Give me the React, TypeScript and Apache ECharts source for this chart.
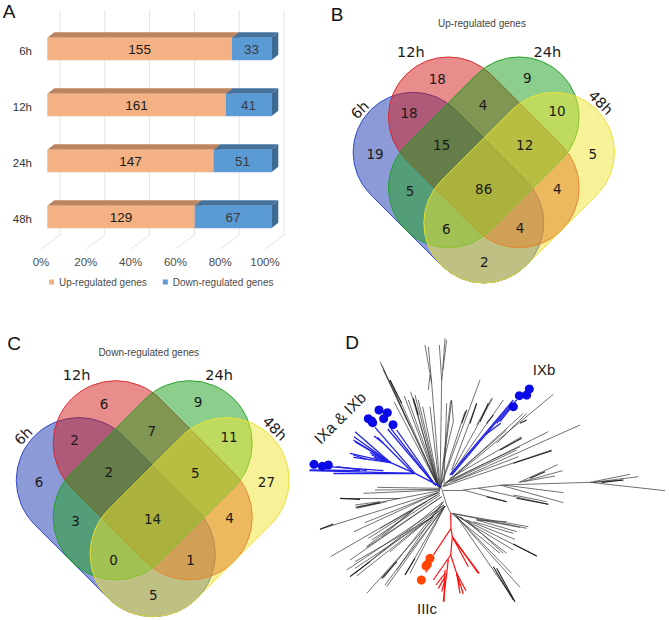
import React, { useEffect, useRef } from "react";
import * as echarts from "echarts";

const SANS = "Liberation Sans";
const VENNFONT = "DejaVu Sans";

// Panel A
const timepoints = ["6h", "12h", "24h", "48h"];
const upCounts = [155, 161, 147, 129];
const downCounts = [33, 41, 51, 67];
const percentTicks = [0, 20, 40, 60, 80, 100];

// Panels B & C (same region order)
const vennUp = [19, 18, 9, 5, 18, 4, 10, 15, 12, 5, 86, 4, 6, 4, 2];
const vennDown = [6, 6, 9, 27, 2, 7, 11, 2, 5, 3, 14, 4, 0, 1, 5];
const vennRegionAt = [
  [-108.8, -15.7], [-46.5, -90.7], [43.5, -92.3], [108.9, -16.3], [-74.8, -56.7],
  [-0.8, -64.7], [73.2, -59.3], [-42.1, -25.3], [40.9, -24.7], [-73.8, 21],
  [-0.1, 19.3], [73.5, 18.7], [-37.5, 59], [36.2, 58.3], [0.5, 92.3],
];
const vennSetNames = ["6h", "12h", "24h", "48h"];
const vennSetLabelAt = [
  [-123.8, -60, 45], [-73, -118.3, 0], [63.5, -118.3, 0], [116.9, -67.3, -45],
];
const vennStadiums = [
  [-70.7, -17.7, 0, 53], [-35.3, -53, 35.3, 17.7], [35.3, -53, -35.3, 17.7], [70.7, -17.7, 0, 53],
];
const vennFill = ["rgba(25,55,175,0.5)", "rgba(210,25,25,0.5)", "rgba(25,160,25,0.5)", "rgba(240,230,50,0.5)"];
const vennEdge = ["#2a44c0", "#d8262c", "#22a022", "#e8e030"];

// Panel D (tree traced in thirds of a pixel)
const blackThin = [
  [418,505,240,125],[410,490,245,135],[330,320,250,150],[320,300,270,180],[415,500,282,245],[415,500,313,228],
  [415,500,332,215],[412,495,340,235],[415,500,345,225],[417,500,368,260],[418,500,390,260],[420,505,395,190],
  [395,190,375,75],[395,190,385,80],[390,165,385,210],[420,505,425,180],[425,180,440,60],[425,180,418,75],
  [428,150,435,55],[424,490,455,240],[432,490,440,250],[415,500,300,240],[418,503,325,240],[416,500,355,240],
  [420,505,540,180],[420,505,452,242],[455,242,460,305],[430,430,460,305],[420,505,495,275],[455,450,530,250],
  [450,465,578,235],[530,315,575,235],[470,440,610,240],[465,465,670,280],[590,370,680,280],[420,505,760,223],
  [450,475,665,350],[435,490,745,335],[430,498,840,315],[450,485,650,390],[460,485,655,410],[430,500,755,390],
  [430,495,620,330],[440,485,660,380],
  [430,510,490,510],[490,510,610,495],[610,495,870,487],[870,487,1095,512],[870,487,990,463],[880,487,1015,470],
  [880,487,970,480],[655,488,773,434],[660,487,788,452],[670,485,765,468],[610,495,790,518],[490,510,620,545],
  [535,505,745,553],[600,495,790,548],[640,525,740,545],
  [420,505,232,502],[420,508,225,510],[420,510,190,520],[420,512,300,535],[300,535,120,535],[300,535,165,562],
  [260,545,170,565],[240,545,165,555],[420,515,60,628],[415,518,195,608],[415,518,162,635],[410,525,205,655],
  [380,545,240,625],[340,570,245,650],[340,570,200,680],[420,520,92,710],[432,555,140,750],[432,555,150,770],
  [435,558,170,768],[435,558,200,820],[435,558,255,795],[435,558,260,800],[435,558,315,765],[435,558,330,760],
  [435,558,270,695],[400,590,165,725],[400,590,165,745],[425,505,432,530],[432,530,440,555],[440,555,452,580],
  [425,530,200,682],[425,530,150,720],[420,525,215,660],[430,545,250,775],[430,545,290,750],[430,545,165,760],
  [455,580,710,708],[455,580,685,620],[455,580,680,625],[530,600,620,605],[520,605,640,640],[500,600,645,658],
  [500,600,610,700],[470,590,635,760],[470,590,660,802],[470,590,645,845],[465,585,640,690],[480,590,620,700],
  [460,585,600,700],[530,598,660,622],[530,600,650,635],
];
const blackThick = [
  [270,180,305,250],[340,235,355,285],[485,310,500,270],[510,310,530,250],[540,305,565,250],[560,310,580,285],
  [660,310,680,300],[600,390,665,355],[640,430,755,392],[905,487,970,480],[690,475,735,455],[560,530,620,545],
  [650,535,745,553],[120,535,180,538],[170,562,240,548],[60,628,100,612],[150,770,210,725],[245,775,290,725],
  [315,765,345,715],[640,672,710,708],[590,745,645,845],[580,740,640,840],
];
const blueBranches = [
  [408,498,290,330],[404,494,263,327],[404,494,272,325],[422,500,345,460],[345,460,225,322],[345,460,100,460],
  [345,460,28,452],[250,452,85,440],[200,452,110,440],[180,452,30,450],[345,460,272,428],[272,428,165,335],
  [272,428,162,350],[272,428,160,360],[272,428,165,365],[340,460,232,352],[222,348,250,370],[272,428,150,400],
  [272,428,160,412],[160,405,200,418],[272,428,210,398],[272,428,215,405],[272,428,222,412],
  [450,465,640,240],[455,465,636,250],[555,345,602,310],[590,310,650,240],[600,305,645,248],
];
const redBranches = [
  [452,580,453,625],[453,625,400,705],[453,625,457,650],[457,650,505,740],[457,650,535,760],[470,670,538,760],
  [457,650,452,705],[452,705,470,760],[470,760,498,812],[470,760,490,822],[470,760,480,820],[470,760,478,795],
  [452,705,400,780],[445,718,430,845],[435,750,432,845],[435,760,408,795],[435,770,415,805],[435,780,425,815],
  [385,735,378,757],
];
const blueTips = [
  [237,270],[262,278],[251,296],[279,314],[205,296],[215,303],[218,308],[42,433],[67,439],[85,435],
  [688,207],[680,225],[658,227],[640,260],
];
const redTips = [[390,715],[382,733],[378,738],[364,780]];

const barDepthX = 7;
const barDepthY = -5.5;
const barShiftX = 6.3;
const barShiftY = -2;
const barHeight = 22.3;

function barRender(front: string, top: string, side: string, textColor: string) {
  return (_: any, api: any) => {
    const start = api.value(0);
    const end = api.value(1);
    const cat = api.value(2);
    const count = api.value(3);
    const a = api.coord([start, cat]);
    const b = api.coord([end, cat]);
    const x0 = a[0] + barShiftX;
    const x1 = b[0] + barShiftX;
    const y0 = a[1] + barShiftY - barHeight / 2;
    const y1 = y0 + barHeight;
    return {
      type: "group",
      children: [
        { type: "polygon", shape: { points: [[x0, y0], [x1, y0], [x1 + barDepthX, y0 + barDepthY], [x0 + barDepthX, y0 + barDepthY]] }, style: { fill: top } },
        { type: "polygon", shape: { points: [[x1, y0], [x1 + barDepthX, y0 + barDepthY], [x1 + barDepthX, y1 + barDepthY], [x1, y1]] }, style: { fill: side } },
        { type: "rect", shape: { x: x0, y: y0, width: x1 - x0, height: barHeight }, style: { fill: front } },
        { type: "text", style: { text: String(count), x: (x0 + x1) / 2, y: (y0 + y1) / 2, align: "center", verticalAlign: "middle", fontSize: 13.5, fontFamily: SANS, fill: textColor } },
      ],
    };
  };
}

function vennSeries(counts: number[], gridIndex: number, name: string) {
  const common = { type: "custom", xAxisIndex: gridIndex, yAxisIndex: gridIndex, silent: true, clip: false, name };
  return [
    {
      ...common,
      data: vennStadiums.map((s, i) => [...s, i]),
      renderItem: (_: any, api: any) => {
        const x1 = api.value(0), y1 = api.value(1), x2 = api.value(2), y2 = api.value(3), i = api.value(4);
        const p1 = api.coord([x1, y1]);
        const p2 = api.coord([x2, y2]);
        const r = api.coord([x1 + 60, y1])[0] - p1[0];
        const len = Math.hypot(p2[0] - p1[0], p2[1] - p1[1]) + 2 * r;
        return {
          type: "rect",
          x: (p1[0] + p2[0]) / 2,
          y: (p1[1] + p2[1]) / 2,
          rotation: -Math.atan2(p2[1] - p1[1], p2[0] - p1[0]),
          shape: { x: -len / 2, y: -r, width: len, height: 2 * r, r },
          style: { fill: vennFill[i], stroke: vennEdge[i], lineWidth: 0.9 },
        };
      },
    },
    {
      ...common,
      z: 3,
      data: counts.map((c, i) => [vennRegionAt[i][0], vennRegionAt[i][1], c]),
      renderItem: (_: any, api: any) => {
        const p = api.coord([api.value(0), api.value(1)]);
        return { type: "text", style: { text: String(api.value(2)), x: p[0], y: p[1], align: "center", verticalAlign: "middle", fontSize: 13.5, fontFamily: VENNFONT, fill: "#1a1a1a" } };
      },
    },
    {
      ...common,
      z: 3,
      data: vennSetLabelAt.map((s, i) => [s[0], s[1], s[2], i]),
      renderItem: (_: any, api: any) => {
        const p = api.coord([api.value(0), api.value(1)]);
        return {
          type: "text",
          x: p[0],
          y: p[1],
          rotation: (api.value(2) * Math.PI) / 180,
          style: { text: vennSetNames[api.value(3)], align: "center", verticalAlign: "middle", fontSize: 14.5, fontFamily: VENNFONT, fill: "#1a1a1a" },
        };
      },
    },
  ];
}

function treeLines(segs: number[][], color: string, width: number) {
  return {
    type: "lines",
    coordinateSystem: "cartesian2d",
    xAxisIndex: 3,
    yAxisIndex: 3,
    silent: true,
    data: segs.map((s) => ({ coords: [[s[0], s[1]], [s[2], s[3]]] })),
    lineStyle: { color, width, opacity: 1, curveness: 0 },
  };
}

function panelText(text: string, x: number, y: number, fontSize: number, fill = "#111", rotation = 0) {
  return {
    type: "text",
    x,
    y,
    rotation,
    style: { text, align: "center", verticalAlign: "middle", fontSize, fontFamily: SANS, fill },
  };
}

export default function App() {
  const ref = useRef<HTMLDivElement>(null);
  useEffect(() => {
    const chart = echarts.init(ref.current!, undefined, { renderer: "svg" });
    let upData: number[][] = [];
    let downData: number[][] = [];
    timepoints.forEach((_, i) => {
      const share = (upCounts[i] / (upCounts[i] + downCounts[i])) * 100;
      upData.push([0, share, i, upCounts[i]]);
      downData.push([share, 100, i, downCounts[i]]);
    });
    const hidden = (gridIndex: number, min: number, max: number, inverse = false) => ({
      type: "value", gridIndex, min, max, inverse, show: false, splitLine: { show: false },
    });
    chart.setOption({
      animation: false,
      backgroundColor: "#ffffff",
      grid: [
        { left: 41, top: 23, width: 224, height: 224, outerBoundsMode: "none" },
        { left: 383.8, top: 70, width: 200, height: 200, outerBoundsMode: "none" },
        { left: 48.3, top: 394.3, width: 208.8, height: 208.8, outerBoundsMode: "none" },
        { left: 300, top: 320, width: 369, height: 300, outerBoundsMode: "none" },
      ],
      xAxis: [
        {
          type: "value", gridIndex: 0, min: 0, max: 100, interval: 20,
          axisLine: { show: false }, axisTick: { show: false }, splitLine: { show: false },
          axisLabel: { formatter: "{value}%", margin: 9, fontSize: 11.5, fontFamily: SANS, color: "#4d4d4d" },
        },
        hidden(1, -100, 100),
        hidden(2, -100, 100),
        hidden(3, 0, 1107),
      ],
      yAxis: [
        {
          type: "category", gridIndex: 0, data: timepoints, inverse: true,
          axisLine: { show: false }, axisTick: { show: false },
          axisLabel: { margin: 9, fontSize: 11.5, fontFamily: SANS, color: "#333" },
        },
        hidden(1, -100, 100, true),
        hidden(2, -100, 100, true),
        hidden(3, 0, 900, true),
      ],
      legend: {
        left: 49,
        top: 277,
        padding: 0,
        itemWidth: 5,
        itemHeight: 5,
        itemGap: 16,
        selectedMode: false,
        icon: "rect",
        data: ["Up-regulated genes", "Down-regulated genes"],
        textStyle: { fontSize: 10, fontFamily: SANS, color: "#4d4d4d" },
      },
      series: [
        {
          type: "custom",
          name: "wall",
          silent: true,
          xAxisIndex: 0,
          yAxisIndex: 0,
          data: percentTicks.map((t) => [t]),
          encode: { x: 0 },
          renderItem: (_: any, api: any) => {
            const x = api.coord([api.value(0), 0])[0];
            return {
              type: "polyline",
              shape: { points: [[x, 249], [x + 19, 235], [x + 19, 10]] },
              style: { fill: "none", stroke: "#e3e3e3", lineWidth: 1 },
            };
          },
        },
        {
          type: "custom",
          name: "Up-regulated genes",
          xAxisIndex: 0,
          yAxisIndex: 0,
          itemStyle: { color: "#F4B183" },
          encode: { x: [0, 1], y: 2 },
          data: upData,
          renderItem: barRender("#F4B183", "#BC8560", "#BC8560", "#1a1a1a"),
        },
        {
          type: "custom",
          name: "Down-regulated genes",
          xAxisIndex: 0,
          yAxisIndex: 0,
          itemStyle: { color: "#5B9BD5" },
          encode: { x: [0, 1], y: 2 },
          data: downData,
          renderItem: barRender("#5B9BD5", "#44729C", "#3F6A94", "#3a3a3a"),
        },
        ...vennSeries(vennUp, 1, "venn up"),
        ...vennSeries(vennDown, 2, "venn down"),
        treeLines(blackThin, "#333333", 0.7),
        treeLines(blackThick, "#1f1f1f", 1.1),
        treeLines(blueBranches, "#2222e6", 1.3),
        treeLines(redBranches, "#ff1010", 1.2),
        { type: "scatter", xAxisIndex: 3, yAxisIndex: 3, silent: true, symbolSize: 9, itemStyle: { color: "#0a0ae8", opacity: 1 }, data: blueTips },
        { type: "scatter", xAxisIndex: 3, yAxisIndex: 3, silent: true, symbolSize: 9, itemStyle: { color: "#ff4500", opacity: 1 }, data: redTips },
      ],
      graphic: [
        panelText("A", 9, 11, 19),
        panelText("B", 337, 14, 19),
        panelText("C", 14, 343, 19),
        panelText("D", 352, 342, 19),
        panelText("Up-regulated genes", 482, 23.7, 10, "#444"),
        panelText("Down-regulated genes", 148.7, 352.3, 10, "#444"),
        panelText("IXa & IXb", 340, 418, 15.5, "#222", Math.PI / 4),
        panelText("IXb", 544, 369.7, 15, "#222"),
        panelText("IIIc", 427, 608, 15, "#222"),
      ],
    });
    return () => chart.dispose();
  }, []);
  return <div ref={ref} style={{ position: "fixed", left: 0, top: 0, width: 669, height: 620, background: "#fff" }} />;
}
